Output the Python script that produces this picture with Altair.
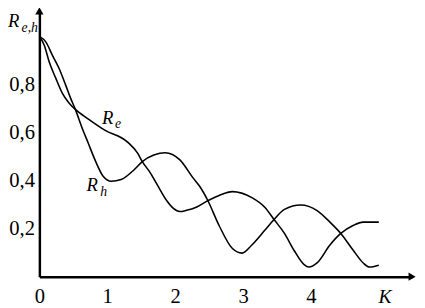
import altair as alt
import pandas as pd

# R_e curve
re_x = [0.0, 0.072, 0.144, 0.241, 0.337, 0.433, 0.53, 0.722, 0.963, 1.30, 1.444, 1.516,
        1.636, 1.733, 1.877, 1.974, 2.069, 2.166, 2.31, 2.479, 2.647, 2.84, 3.13, 3.32,
        3.456, 3.61, 3.75, 3.90, 3.97, 4.09, 4.28, 4.44, 4.62, 4.77, 5.0]
re_y = [1.0, 0.963, 0.894, 0.826, 0.764, 0.724, 0.696, 0.656, 0.61, 0.56, 0.515, 0.479,
        0.431, 0.384, 0.316, 0.284, 0.271, 0.276, 0.289, 0.316, 0.338, 0.354, 0.329, 0.289,
        0.238, 0.18, 0.11, 0.05, 0.04, 0.057, 0.132, 0.18, 0.213, 0.227, 0.227]

# R_h curve
rh_x = [0.0, 0.097, 0.192, 0.289, 0.386, 0.458, 0.53, 0.625, 0.722, 0.819, 0.939, 1.059,
        1.203, 1.396, 1.516, 1.685, 1.853, 2.07, 2.263, 2.358, 2.479, 2.647, 2.84, 2.985,
        3.13, 3.32, 3.456, 3.61, 3.85, 4.09, 4.28, 4.44, 4.62, 4.77, 4.86, 5.0]
rh_y = [1.0, 0.976, 0.921, 0.867, 0.798, 0.744, 0.696, 0.622, 0.554, 0.486, 0.418, 0.397,
        0.404, 0.445, 0.479, 0.506, 0.516, 0.486, 0.411, 0.377, 0.318, 0.213, 0.118, 0.098,
        0.132, 0.193, 0.238, 0.28, 0.298, 0.275, 0.227, 0.18, 0.111, 0.057, 0.04, 0.048]

x_ticks = [0, 1, 2, 3, 4]
y_ticks = [0.2, 0.4, 0.6, 0.8]

# curve labels: main letter and subscript
main_labels = ["R", "R", "R"]
main_lx = [0.924, 0.693, -0.462]
main_ly = [0.637, 0.355, 1.037]
sub_labels = ["e", "h", "e,h"]
sub_lx = [1.112, 0.895, -0.262]
sub_ly = [0.620, 0.335, 1.016]

axis_title = ["K"]
axis_title_x = [5.09]
axis_title_y = [-0.11]

X_MAX = 5.49
Y_MAX = 1.106

df = pd.concat([
    pd.DataFrame({"x": re_x, "y": re_y, "series": "Re"}),
    pd.DataFrame({"x": rh_x, "y": rh_y, "series": "Rh"}),
])

xscale = alt.Scale(domain=[0, X_MAX], nice=False, zero=False)
yscale = alt.Scale(domain=[0, Y_MAX], nice=False, zero=False)

FONT = "Liberation Serif"

lines = alt.Chart(df).mark_line(color="black", strokeWidth=1.6, interpolate="monotone").encode(
    x=alt.X("x:Q", scale=xscale, axis=alt.Axis(
        values=x_ticks, format="d", title=None, grid=False, ticks=False, domainColor="black",
        domainWidth=2.5, labelFont=FONT, labelFontSize=21, labelColor="black",
        labelPadding=9, labelFlush=False, labelOverlap=False)),
    y=alt.Y("y:Q", scale=yscale, axis=alt.Axis(
        values=y_ticks, title=None, grid=False, ticks=False, domainColor="black",
        domainWidth=2.5, labelFont=FONT, labelFontSize=21, labelColor="black",
        labelPadding=5, labelFlush=False, labelOverlap=False,
        labelExpr="replace(format(datum.value, '.1f'), '.', ',')")),
    detail="series:N",
)

arrows_df = pd.DataFrame({
    "x": [X_MAX, 0.0],
    "y": [0.0, Y_MAX],
    "shape": ["triangle-right", "triangle-up"],
})
arrows = alt.Chart(arrows_df).mark_point(filled=True, color="black", size=70, opacity=1).encode(
    x=alt.X("x:Q", scale=xscale),
    y=alt.Y("y:Q", scale=yscale),
    shape=alt.Shape("shape:N", scale=None, legend=None),
)

main_df = pd.DataFrame({"x": main_lx, "y": main_ly, "t": main_labels})
sub_df = pd.DataFrame({"x": sub_lx, "y": sub_ly, "t": sub_labels})
k_df = pd.DataFrame({"x": axis_title_x, "y": axis_title_y, "t": axis_title})

main_txt = alt.Chart(main_df).mark_text(
    font=FONT, fontSize=19, fontStyle="italic", align="left", baseline="alphabetic", color="black"
).encode(x=alt.X("x:Q", scale=xscale), y=alt.Y("y:Q", scale=yscale), text="t:N")

sub_txt = alt.Chart(sub_df).mark_text(
    font=FONT, fontSize=14, fontStyle="italic", align="left", baseline="alphabetic", color="black"
).encode(x=alt.X("x:Q", scale=xscale), y=alt.Y("y:Q", scale=yscale), text="t:N")

k_txt = alt.Chart(k_df).mark_text(
    font=FONT, fontSize=20, fontStyle="italic", align="center", baseline="alphabetic", color="black"
).encode(x=alt.X("x:Q", scale=xscale), y=alt.Y("y:Q", scale=yscale), text="t:N")

chart = alt.layer(lines, arrows, main_txt, sub_txt, k_txt).properties(
    width=380, height=271,
    padding={"left": 32, "top": 0, "right": 5, "bottom": 28},
    autosize=alt.AutoSizeParams(type="none"),
    background="white",
).configure_view(stroke=None)

chart.save("out.html", embed_options={"renderer": "svg", "actions": False})
